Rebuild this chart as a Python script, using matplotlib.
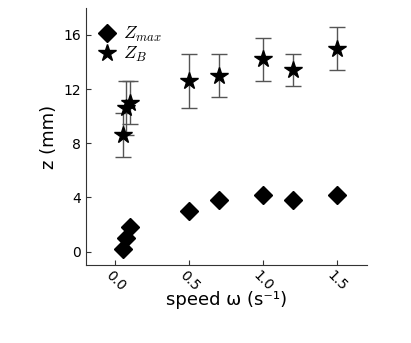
import matplotlib
matplotlib.use("Agg")
import matplotlib.pyplot as plt
from matplotlib.lines import Line2D
import matplotlib.transforms as mtransforms

plt.rcParams["mathtext.fontset"] = "cm"

speed_zmax = [0.05, 0.07, 0.1, 0.5, 0.7, 1.0, 1.2, 1.5]
zmax = [0.2, 1.0, 1.8, 3.0, 3.8, 4.2, 3.8, 4.2]

speed_zb = [0.05, 0.07, 0.1, 0.5, 0.7, 1.0, 1.2, 1.5]
zb = [8.6, 10.6, 11.0, 12.6, 13.0, 14.2, 13.4, 15.0]
zb_err = [1.6, 2.0, 1.6, 2.0, 1.6, 1.6, 1.2, 1.6]

xticks = [0.0, 0.5, 1.0, 1.5]
yticks = [0, 4, 8, 12, 16]

fig = plt.figure(figsize=(4.11, 3.43), dpi=100)
ax = fig.add_axes([0.209, 0.227, 0.684, 0.75])

ax.plot(speed_zmax, zmax, linestyle="none", marker="D", color="black",
        markersize=9)
ax.errorbar(speed_zb, zb, yerr=zb_err, linestyle="none", marker="*",
            color="black", markersize=13, ecolor="#555555", elinewidth=1.0,
            capsize=6, capthick=1.0)

ax.set_xlim(-0.2, 1.7)
ax.set_ylim(-1, 18)
ax.set_xticks(xticks)
ax.set_xticklabels([f"{t:.1f}" for t in xticks], rotation=-45, ha="center", va="top")
offset = mtransforms.ScaledTranslation(6 / 100, 0, fig.dpi_scale_trans)
for lbl in ax.get_xticklabels():
    lbl.set_transform(lbl.get_transform() + offset)
ax.set_yticks(yticks)
ax.tick_params(direction="in", labelsize=10, color="#333333")
ax.tick_params(axis="x", pad=2)
for s in ["top", "right"]:
    ax.spines[s].set_visible(False)
for s in ["left", "bottom"]:
    ax.spines[s].set_color("#333333")
ax.set_xlabel("speed ω (s⁻¹)", fontsize=13, labelpad=-2)
ax.set_ylabel("z (mm)", fontsize=13)

handles = [
    Line2D([], [], linestyle="none", marker="D", color="black", markersize=9),
    Line2D([], [], linestyle="none", marker="*", color="black", markersize=13),
]
ax.legend(handles, ["$Z_{max}$", "$Z_B$"], loc="upper left", frameon=False,
          fontsize=13, handletextpad=0.1, borderaxespad=0.5, labelspacing=0.05,
          handlelength=1.5, bbox_to_anchor=(-0.03, 0.995))

fig.savefig("out.png", dpi=100)
